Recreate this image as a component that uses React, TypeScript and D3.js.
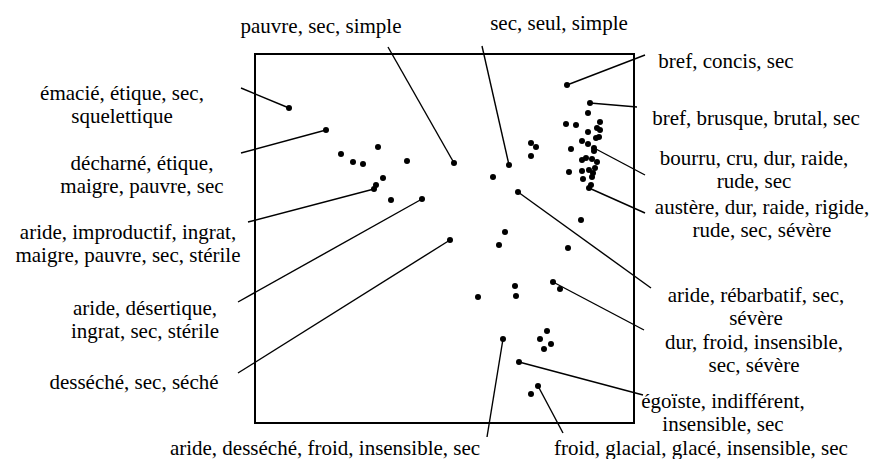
import { useEffect, useRef } from "react";
import * as d3 from "d3";

// word coordinates in the plot space (x right, y up)
const pointX = [
  34, 71, 86, 98, 108, 123, 152, 199, 128, 121, 119, 136, 167, 195,
  254, 238, 263, 276, 281, 276, 250, 244, 326, 313,
  312, 335, 333, 311, 321, 345, 342, 345, 333, 344, 341, 327, 333, 339, 316, 339,
  331, 327, 337, 342, 314, 327, 334, 340, 338, 328, 337, 336, 334,
  298, 305, 260, 261, 223, 292, 285, 296, 289, 248, 264, 283, 276,
];
const pointY = [
  315, 293, 269, 261, 259, 276, 262, 260, 245, 238, 234, 223, 224, 183,
  258, 246, 231, 280, 276, 267, 191, 178, 203, 175,
  338, 320, 310, 299, 298, 301, 295, 293, 291, 286, 285, 282, 279, 275, 274, 272,
  265, 263, 264, 261, 251, 252, 253, 255, 250, 244, 246, 238, 235,
  141, 134, 137, 127, 126, 92, 84, 79, 74, 84, 61, 37, 29,
];

// labelled points
const labelTexts = [
  ["émacié, étique, sec,", "squelettique"],
  ["décharné, étique,", "maigre, pauvre, sec"],
  ["aride, improductif, ingrat,", "maigre, pauvre, sec, stérile"],
  ["aride, désertique,", "ingrat, sec, stérile"],
  ["desséché, sec, séché"],
  ["aride, desséché, froid, insensible, sec"],
  ["froid, glacial, glacé, insensible, sec"],
  ["égoïste, indifférent,", "insensible, sec"],
  ["dur, froid, insensible,", "sec, sévère"],
  ["aride, rébarbatif, sec,", "sévère"],
  ["austère, dur, raide, rigide,", "rude, sec, sévère"],
  ["bourru, cru, dur, raide,", "rude, sec"],
  ["bref, brusque, brutal, sec"],
  ["bref, concis, sec"],
  ["sec, seul, simple"],
  ["pauvre, sec, simple"],
];
const labelPoint = [0, 1, 10, 12, 13, 62, 64, 63, 53, 16, 52, 37, 25, 24, 14, 7];
const labelX = [-133, -113, -127, -110, -121, 70, 446, 468, 499, 501, 507, 499, 501, 471, 304, 66];
const labelY = [330, 260, 191, 115, 41, -24.5, -24.5, 22, 81, 128, 216, 265, 305, 362, 400, 397];
const leaderX = [-14, -14, -7, -17, -17, 232, 308, 388, 389, 396, 390, 390, 382, 390, 227, 133];
const leaderY = [335, 270, 201, 121, 50, -14, -10, 28, 93, 135, 210, 248, 316, 368, 377, 376];

export default function App() {
  const ref = useRef<SVGSVGElement>(null);

  useEffect(() => {
    if (!ref.current) return;
    document.body.style.margin = "0";
    const svg = d3.select(ref.current);
    svg.selectAll("*").remove();

    const x = d3.scaleLinear().domain([0, 379]).range([255, 634]);
    const y = d3.scaleLinear().domain([0, 369]).range([423, 54]);

    svg.append("rect")
      .attr("x", x(0))
      .attr("y", y(369))
      .attr("width", x(379) - x(0))
      .attr("height", y(0) - y(369))
      .attr("fill", "none")
      .attr("stroke", "#000")
      .attr("stroke-width", 2);

    // leader lines
    svg.selectAll(".leader")
      .data(labelPoint)
      .enter()
      .append("line")
      .attr("class", "leader")
      .attr("x1", d => x(pointX[d]))
      .attr("y1", d => y(pointY[d]))
      .attr("x2", (_, i) => x(leaderX[i]))
      .attr("y2", (_, i) => y(leaderY[i]))
      .attr("stroke", "#000")
      .attr("stroke-width", 1.4);

    svg.selectAll(".pt")
      .data(pointX)
      .enter()
      .append("circle")
      .attr("class", "pt")
      .attr("cx", d => x(d))
      .attr("cy", (_, i) => y(pointY[i]))
      .attr("r", 3)
      .attr("fill", "#000");

    const lineH = 23;
    const labels = svg.selectAll(".lab")
      .data(labelTexts)
      .enter()
      .append("text")
      .attr("class", "lab")
      .attr("text-anchor", "middle")
      .style("font-family", "\"Liberation Serif\", \"Times New Roman\", serif")
      .style("font-size", "21px")
      .attr("fill", "#000");

    labels.each(function (lines, i) {
      const t = d3.select(this);
      lines.forEach((s, j) => {
        t.append("tspan")
          .attr("x", x(labelX[i]))
          .attr("y", y(labelY[i]) + j * lineH)
          .attr("dominant-baseline", "central")
          .text(s);
      });
    });
  }, []);

  return (
    <svg
      ref={ref}
      width={874}
      height={459}
      style={{ position: "absolute", left: 0, top: 0, background: "#fff" }}
    />
  );
}
